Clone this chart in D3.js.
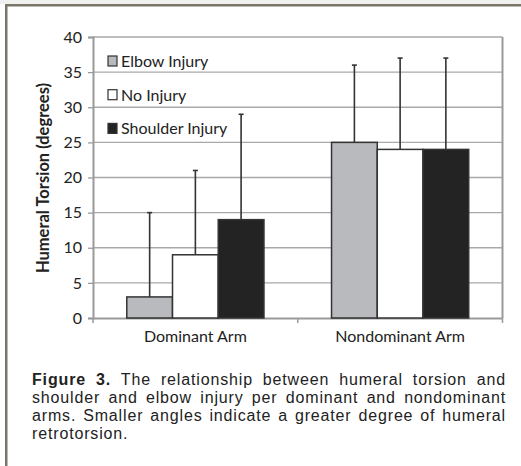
<!DOCTYPE html>
<html>
<head>
<meta charset="utf-8">
<script src="https://cdn.jsdelivr.net/npm/d3@7"></script>
<style>
  html, body { margin: 0; padding: 0; background: #fff; }
  svg { display: block; }
</style>
</head>
<body>
<svg id="chart" width="521" height="466"></svg>
<script>
// data
const arms = ["Dominant Arm", "Nondominant Arm"]
const groups = ["Elbow Injury", "No Injury", "Shoulder Injury"]
const elbow = [3, 25]
const noInjury = [9, 24]
const shoulder = [14, 24]
const elbowSD = [12, 11]
const noInjurySD = [12, 13]
const shoulderSD = [15, 13]
const yTicks = [0, 5, 10, 15, 20, 25, 30, 35, 40]
const fills = ["#b9babe", "#ffffff", "#232323"]
const caption = [
	["Figure 3.", "The relationship between humeral torsion and"],
	["", "shoulder and elbow injury per dominant and nondominant"],
	["", "arms. Smaller angles indicate a greater degree of humeral"],
	["", "retrotorsion."]
]

const values = [elbow, noInjury, shoulder]
const sds = [elbowSD, noInjurySD, shoulderSD]

const svg = d3.select("#chart")

// figure frame
svg.append("rect").attr("x",0).attr("y",0).attr("width",521).attr("height",4).attr("fill","#f0f0ee")
svg.append("rect").attr("x",5).attr("y",4).attr("width",516).attr("height",2.5).attr("fill","#7b7667")
svg.append("rect").attr("x",5).attr("y",4).attr("width",2.5).attr("height",462).attr("fill","#7b7667")

const m = {left:93, top:37, right:502.5, bottom:318}
const X = d3.scaleBand().domain(arms).range([m.left, m.right])
// group of bars takes about 67% of the category
const G = d3.scaleBand().domain(groups).range([X.bandwidth()*0.165, X.bandwidth()*0.835])
const Y = d3.scaleLinear().domain([0,40]).range([m.bottom, m.top])

const plot = svg.append("g")

// gridlines
plot.selectAll(".grid").data(yTicks.slice(1)).enter().append("line")
	.attr("x1",m.left).attr("x2",m.right)
	.attr("y1",d=>Y(d)).attr("y2",d=>Y(d))
	.attr("stroke","#a9a9a9").attr("stroke-width",1.3)

// plot border (right)
plot.append("line").attr("x1",m.right).attr("x2",m.right).attr("y1",m.top).attr("y2",m.bottom)
	.attr("stroke","#9a9a9a").attr("stroke-width",2)

// y axis
const yAxis = plot.append("g").attr("transform",`translate(${m.left},0)`)
	.call(d3.axisLeft(Y).tickValues(yTicks).tickSize(5).tickPadding(6))
yAxis.select(".domain").attr("stroke","#9a9a9a").attr("stroke-width",2)
yAxis.selectAll(".tick line").attr("stroke","#9a9a9a").attr("stroke-width",1.3)
yAxis.selectAll(".tick text").attr("font-family","Lato").attr("font-size",16).attr("fill","#222")

// x axis
const xAxis = plot.append("g").attr("transform",`translate(0,${m.bottom})`)
	.call(d3.axisBottom(X).tickSize(0).tickPadding(13))
xAxis.select(".domain").attr("stroke","#9a9a9a").attr("stroke-width",2)
xAxis.selectAll(".tick text").attr("font-family","Lato").attr("font-size",16).attr("fill","#222")
xAxis.selectAll(".sep").data([m.left, m.left + X.step(), m.right]).enter().append("line")
	.attr("x1",d=>d).attr("x2",d=>d).attr("y1",0).attr("y2",5)
	.attr("stroke","#9a9a9a").attr("stroke-width",1.5)

// bars
const rows = []
arms.forEach((a,i) => groups.forEach((g,j) => rows.push({arm:a, group:g, j:j, v:values[j][i], sd:sds[j][i]})))

const bx = d => X(d.arm) + G(d.group)

// error bars (upper only), drawn under bars
plot.selectAll(".err").data(rows).enter().append("line")
	.attr("x1",d=>bx(d)+G.bandwidth()/2).attr("x2",d=>bx(d)+G.bandwidth()/2)
	.attr("y1",d=>Y(d.v)).attr("y2",d=>Y(d.v+d.sd))
	.attr("stroke","#333").attr("stroke-width",1.6)
plot.selectAll(".cap").data(rows).enter().append("line")
	.attr("x1",d=>bx(d)+G.bandwidth()/2-2.5).attr("x2",d=>bx(d)+G.bandwidth()/2+2.5)
	.attr("y1",d=>Y(d.v+d.sd)).attr("y2",d=>Y(d.v+d.sd))
	.attr("stroke","#333").attr("stroke-width",1.6)

plot.selectAll(".bar").data(rows).enter().append("rect")
	.attr("x",d=>bx(d)).attr("width",G.bandwidth())
	.attr("y",d=>Y(d.v)).attr("height",d=>Y(0)-Y(d.v))
	.attr("fill",d=>fills[d.j]).attr("stroke","#333").attr("stroke-width",1.5)

// legend
const leg = svg.append("g").attr("transform","translate(108,61)")
const li = leg.selectAll("g").data(groups).enter().append("g")
	.attr("transform",(d,i)=>`translate(0,${i*33.7})`)
li.append("rect").attr("x",0).attr("y",-5).attr("width",9).attr("height",10)
	.attr("fill",(d,i)=>fills[i]).attr("stroke","#333").attr("stroke-width",1.2)
li.append("text").attr("x",13).attr("y",6).text(d=>d)
	.attr("font-family","Lato").attr("font-size",16).attr("fill","#222")

// y title
svg.append("text").attr("transform","translate(48.5,178) rotate(-90)")
	.attr("text-anchor","middle").attr("font-family","Lato").attr("font-weight","bold")
	.attr("font-size",16.5).attr("fill","#222").text("Humeral Torsion (degrees)")

// caption, justified
const capLeft = 32, capRight = 506
caption.forEach((line,i) => {
	const y = 385 + i*18
	const words = []
	if (line[0]) line[0].split(" ").forEach(w => words.push({w:w, bold:true}))
	line[1].split(" ").forEach(w => words.push({w:w, bold:false}))
	const t = svg.append("g")
	const nodes = t.selectAll("text").data(words).enter().append("text")
		.attr("y",y).text(d=>d.w)
		.attr("font-family","Liberation Sans").attr("font-size",16)
		.attr("letter-spacing",0.85)
		.attr("font-weight",d=>d.bold?"bold":"normal").attr("fill","#222")
	const widths = nodes.nodes().map(n=>n.getComputedTextLength())
	const total = d3.sum(widths)
	const last = i === caption.length-1
	const gap = last ? 5 : (capRight-capLeft-total)/(words.length-1)
	let x = capLeft
	nodes.attr("x",(d,k)=>{ const cx = x; x += widths[k] + gap; return cx })
})
</script>
</body>
</html>
